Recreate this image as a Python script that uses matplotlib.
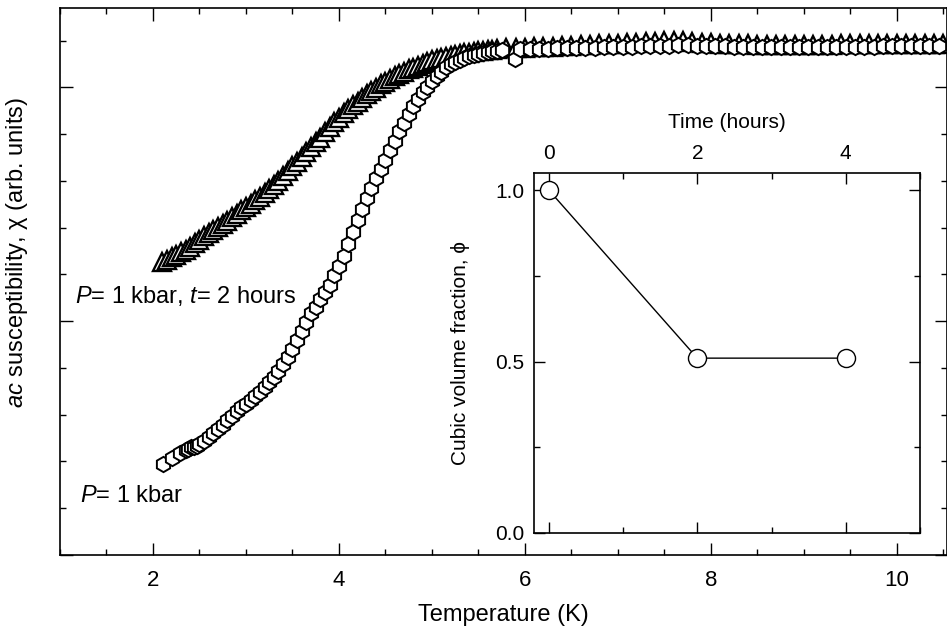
import matplotlib
matplotlib.use("Agg")
import matplotlib.pyplot as plt
from matplotlib.ticker import MultipleLocator

plt.rcParams["font.family"] = ["Liberation Sans", "DejaVu Sans"]
plt.rcParams["mathtext.fontset"] = "custom"
plt.rcParams["mathtext.rm"] = "Liberation Sans"
plt.rcParams["mathtext.it"] = "Liberation Sans:italic"

# P = 1 kbar, t = 2 hours  (triangles)
temp_2h = [2.10, 2.15, 2.20, 2.25, 2.30, 2.35, 2.40, 2.45, 2.50, 2.55,
           2.60, 2.65, 2.70, 2.75, 2.80, 2.85, 2.90, 2.95, 3.00, 3.05,
           3.10, 3.15, 3.20, 3.25, 3.30, 3.35, 3.40, 3.45, 3.50, 3.55,
           3.60, 3.65, 3.70, 3.75, 3.80, 3.85, 3.90, 3.95, 4.00, 4.05,
           4.10, 4.15, 4.20, 4.25, 4.30, 4.35, 4.40, 4.45, 4.50, 4.55,
           4.60, 4.65, 4.70, 4.75, 4.80, 4.85, 4.90, 4.95, 5.00, 5.05,
           5.10, 5.15, 5.20, 5.25, 5.30, 5.35, 5.40, 5.45, 5.50, 5.55,
           5.60, 5.65, 5.70,
           5.8, 5.9, 6.0, 6.1, 6.2, 6.3, 6.4, 6.5, 6.6, 6.7,
           6.8, 6.9, 7.0, 7.1, 7.2, 7.3, 7.4, 7.5, 7.6, 7.7,
           7.8, 7.9, 8.0, 8.1, 8.2, 8.3, 8.4, 8.5, 8.6, 8.7,
           8.8, 8.9, 9.0, 9.1, 9.2, 9.3, 9.4, 9.5, 9.6, 9.7,
           9.8, 9.9, 10.0, 10.1, 10.2, 10.3, 10.4, 10.5]
chi_2h = [1.255, 1.264, 1.273, 1.284, 1.295, 1.306, 1.318, 1.333, 1.348, 1.363,
          1.378, 1.390, 1.402, 1.414, 1.428, 1.444, 1.460, 1.475, 1.489, 1.503,
          1.517, 1.532, 1.548, 1.565, 1.582, 1.602, 1.622, 1.641, 1.662, 1.683,
          1.704, 1.725, 1.745, 1.765, 1.786, 1.808, 1.832, 1.853, 1.871, 1.889,
          1.906, 1.923, 1.940, 1.956, 1.972, 1.985, 1.999, 2.013, 2.025, 2.036,
          2.047, 2.058, 2.068, 2.077, 2.085, 2.093, 2.101, 2.109, 2.116, 2.121,
          2.127, 2.132, 2.136, 2.139, 2.143, 2.146, 2.149, 2.151, 2.154, 2.156,
          2.159, 2.161, 2.164,
          2.167, 2.169, 2.171, 2.172, 2.174, 2.175, 2.177, 2.178, 2.180, 2.182,
          2.184, 2.186, 2.188, 2.190, 2.192, 2.194, 2.196, 2.198, 2.199, 2.197,
          2.194, 2.191, 2.189, 2.187, 2.186, 2.185, 2.184, 2.183, 2.182, 2.181,
          2.181, 2.181, 2.182, 2.182, 2.183, 2.183, 2.184, 2.184, 2.185, 2.185,
          2.186, 2.186, 2.186, 2.187, 2.187, 2.188, 2.188, 2.188]

# P = 1 kbar  (hexagons)
temp_1k = [2.11, 2.20, 2.29, 2.35, 2.38, 2.41, 2.44, 2.47, 2.50, 2.55,
           2.60, 2.65, 2.70, 2.75, 2.80, 2.85, 2.90, 2.95, 3.00, 3.05,
           3.10, 3.15, 3.20, 3.25, 3.30, 3.35, 3.40, 3.45, 3.50, 3.55,
           3.60, 3.65, 3.70, 3.75, 3.80, 3.85, 3.90, 3.95, 4.00, 4.05,
           4.10, 4.15, 4.20, 4.25, 4.30, 4.35, 4.40, 4.45, 4.50, 4.55,
           4.60, 4.65, 4.70, 4.75, 4.80, 4.85, 4.90, 4.95, 5.00, 5.05,
           5.10, 5.15, 5.20, 5.25, 5.30, 5.35, 5.40, 5.45, 5.50, 5.55,
           5.60, 5.65, 5.70,
           5.75, 5.89, 5.95, 6.05, 6.15, 6.25, 6.35, 6.45, 6.55, 6.65,
           6.75, 6.85, 6.95, 7.05, 7.15, 7.25, 7.35, 7.45, 7.55, 7.65,
           7.75, 7.85, 7.95, 8.05, 8.15, 8.25, 8.35, 8.45, 8.55, 8.65,
           8.75, 8.85, 8.95, 9.05, 9.15, 9.25, 9.35, 9.45, 9.55, 9.65,
           9.75, 9.85, 9.95, 10.05, 10.15, 10.25, 10.35, 10.45]
chi_1k = [0.388, 0.413, 0.436, 0.448, 0.455, 0.461, 0.464, 0.467, 0.475, 0.488,
          0.503, 0.520, 0.539, 0.558, 0.577, 0.596, 0.614, 0.632, 0.648, 0.664,
          0.681, 0.699, 0.719, 0.741, 0.760, 0.788, 0.818, 0.847, 0.883, 0.921,
          0.958, 0.996, 1.034, 1.062, 1.093, 1.125, 1.156, 1.196, 1.236, 1.281,
          1.330, 1.381, 1.432, 1.479, 1.527, 1.569, 1.611, 1.652, 1.690, 1.731,
          1.771, 1.812, 1.849, 1.885, 1.920, 1.951, 1.980, 2.004, 2.027, 2.047,
          2.067, 2.086, 2.102, 2.111, 2.119, 2.127, 2.134, 2.139, 2.144, 2.148,
          2.152, 2.155, 2.158,
          2.160, 2.122, 2.163, 2.164, 2.165, 2.166, 2.167, 2.168, 2.169, 2.170,
          2.171, 2.172, 2.173, 2.174, 2.175, 2.176, 2.177, 2.178, 2.179, 2.180,
          2.180, 2.179, 2.178, 2.177, 2.176, 2.175, 2.174, 2.173, 2.173, 2.172,
          2.172, 2.172, 2.172, 2.173, 2.173, 2.173, 2.174, 2.174, 2.175, 2.175,
          2.175, 2.176, 2.176, 2.176, 2.177, 2.177, 2.177, 2.178]

# inset: cubic volume fraction vs time
time_hours = [0, 2, 4]
cubic_fraction = [1.0, 0.51, 0.51]

fig = plt.figure(figsize=(9.47, 6.33), dpi=100)
ax = fig.add_axes([60 / 947, 78 / 633, 887 / 947, 547 / 633])

# dense overlapping open markers, as in the measured curves
ax.plot(temp_2h, chi_2h, linestyle="none", marker="^", markersize=13,
        markerfacecolor="white", markeredgecolor="black", markeredgewidth=1.7)
ax.plot(temp_1k, chi_1k, linestyle="none", marker="h", markersize=11,
        markerfacecolor="white", markeredgecolor="black", markeredgewidth=1.4)

ax.set_xlim(1.0, 10.54)
ax.set_ylim(0.0, 2.34)
ax.xaxis.set_major_locator(MultipleLocator(2))
ax.xaxis.set_minor_locator(MultipleLocator(0.5))
ax.yaxis.set_major_locator(MultipleLocator(1))
ax.yaxis.set_minor_locator(MultipleLocator(0.2))
ax.tick_params(which="both", direction="in", top=True, right=True,
               labelleft=False, width=1)
ax.tick_params(which="major", length=9, labelsize=16, pad=11)
ax.tick_params(which="minor", length=4)
for s in ax.spines.values():
    s.set_linewidth(1.2)

ax.set_xlabel("Temperature (K)", fontsize=17, labelpad=9)
ax.set_ylabel("$ac$ susceptibility, \u03c7 (arb. units)", fontsize=17)
ax.yaxis.set_label_coords(-0.034, 0.554)

ax.text(1.16, 1.107, "$P$= 1 kbar, $t$= 2 hours", fontsize=17,
        ha="left", va="center")
ax.text(1.22, 0.251, "$P$= 1 kbar", fontsize=17, ha="left", va="center")

# inset
ins = fig.add_axes([534 / 947, 100 / 633, 386 / 947, 360 / 633])
ins.plot(time_hours, cubic_fraction, color="black", linewidth=1,
         marker="o", markersize=13, markerfacecolor="white",
         markeredgecolor="black", markeredgewidth=1)
ins.set_xlim(-0.2, 5.0)
ins.set_ylim(0.0, 1.05)
ins.xaxis.set_major_locator(MultipleLocator(2))
ins.xaxis.set_minor_locator(MultipleLocator(1))
ins.yaxis.set_major_locator(MultipleLocator(0.5))
ins.yaxis.set_minor_locator(MultipleLocator(0.25))
ins.xaxis.tick_top()
ins.xaxis.set_label_position("top")
ins.tick_params(which="both", direction="in", top=True, bottom=True,
                left=True, right=True, labeltop=True, labelbottom=False,
                width=1)
ins.tick_params(which="major", length=8, labelsize=15, pad=7)
ins.tick_params(which="minor", length=4)
for s in ins.spines.values():
    s.set_linewidth(1.2)
ins.set_xlabel("Time (hours)", fontsize=15, labelpad=12)
ins.set_ylabel("Cubic volume fraction, \u03d5", fontsize=15)
ins.yaxis.set_label_coords(-0.165, 0.5)

fig.savefig("out.png", dpi=100)
